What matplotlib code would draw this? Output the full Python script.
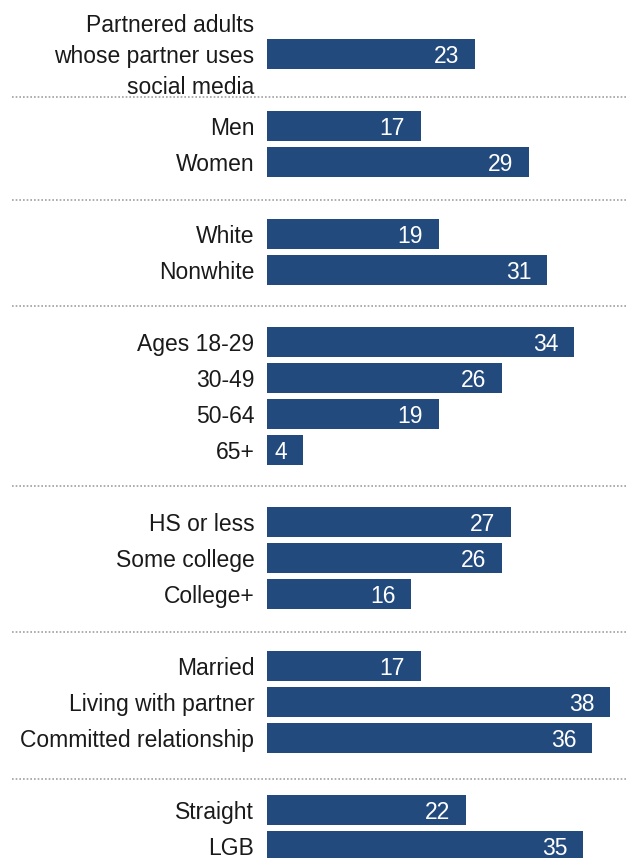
import matplotlib
matplotlib.use("Agg")
import matplotlib.pyplot as plt

# ---------------------------------------------------------------------------
# Data
# ---------------------------------------------------------------------------
groups = [
    ["Partnered adults\nwhose partner uses\nsocial media"],
    ["Men", "Women"],
    ["White", "Nonwhite"],
    ["Ages 18-29", "30-49", "50-64", "65+"],
    ["HS or less", "Some college", "College+"],
    ["Married", "Living with partner", "Committed relationship"],
    ["Straight", "LGB"],
]
values = [
    [23],
    [17, 29],
    [19, 31],
    [34, 26, 19, 4],
    [27, 26, 16],
    [17, 38, 36],
    [22, 35],
]

BAR_COLOR = "#234a7c"
LINE_COLOR = "#a0a0a0"
plt.rcParams["font.family"] = ["Liberation Sans", "DejaVu Sans"]

# ---------------------------------------------------------------------------
# Layout: one row per bar, one empty row between groups
# ---------------------------------------------------------------------------
labels, vals, ypos, seps = [], [], [], []
row = 0
for gi, (g, v) in enumerate(zip(groups, values)):
    if gi > 0:
        seps.append(row)
        row += 1
    for lab, val in zip(g, v):
        labels.append(lab)
        vals.append(val)
        ypos.append(row)
        row += 1

# small nudges so the dotted rules sit like the original
sep_nudge = [0.2, 0.05, 0.0, 0.0, 0.05, 0.15]

W, H = 627, 858
px_per_unit = 9.03
row_px = 36
x0_px = 267

fig = plt.figure(figsize=(W / 100, H / 100), dpi=100)
ax = fig.add_axes([0, 0, 1, 1])
ax.set_xlim(-x0_px / px_per_unit, (W - x0_px) / px_per_unit)
ax.set_ylim((H - 54) / row_px, -54 / row_px)
ax.axis("off")

ax.barh(ypos, vals, height=0.82, color=BAR_COLOR, edgecolor="none")

for y, v, lab in zip(ypos, vals, labels):
    ax.text(v - 1.75, y, str(v), ha="right", va="center_baseline",
            color="white", fontsize=16.5)
    dy = -0.12 if "\n" in lab else 0.0
    ax.text(-1.4, y + dy, lab, ha="right", va="center_baseline",
            color="#1a1a1a", fontsize=16.5, linespacing=1.45)

for s, n in zip(seps, sep_nudge):
    ax.plot([-(x0_px - 12) / px_per_unit, (W - x0_px) / px_per_unit],
            [s + n, s + n], color=LINE_COLOR, lw=1.2, ls=(0, (1, 1.2)))

fig.savefig("out.png", dpi=100)
